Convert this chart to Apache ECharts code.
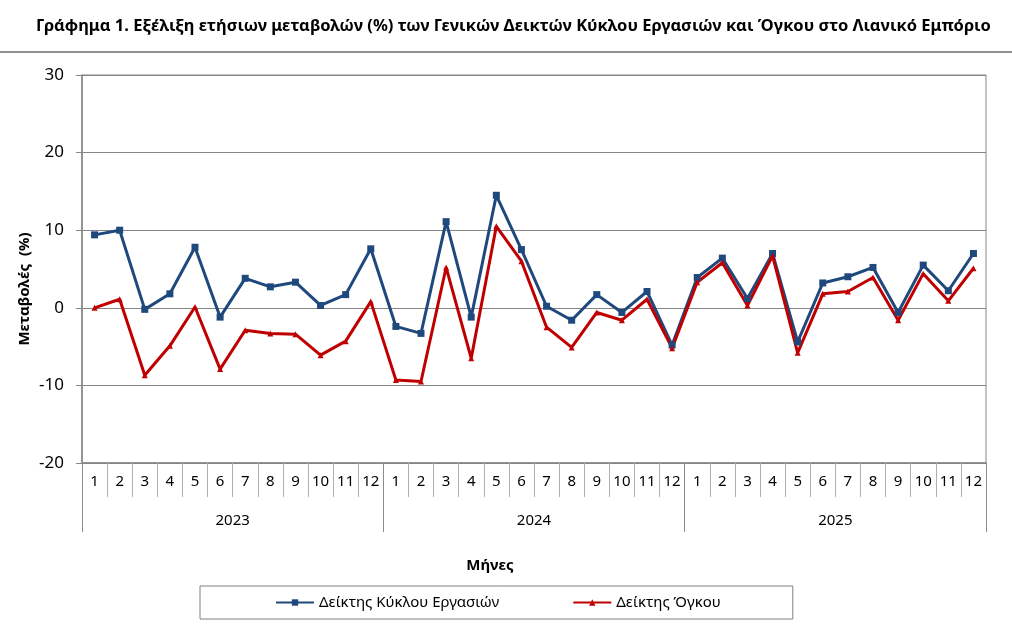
<!DOCTYPE html>
<html>
<head>
<meta charset="utf-8">
<script src="https://cdn.jsdelivr.net/npm/echarts@6/dist/echarts.min.js"></script>
<style>
html,body{margin:0;padding:0;background:#fff;}
#chart{width:1012px;height:633px;}
</style>
</head>
<body>
<div id="chart"></div>
<script>
// data
var years = ['2023', '2024', '2025'];
var months = ['1','2','3','4','5','6','7','8','9','10','11','12'];
var turnover = [9.4, 10.0, -0.2, 1.8, 7.8, -1.2, 3.8, 2.7, 3.3, 0.3, 1.7, 7.6,
                -2.4, -3.3, 11.1, -1.2, 14.5, 7.5, 0.2, -1.6, 1.7, -0.6, 2.1, -4.8,
                3.9, 6.4, 1.2, 7.0, -4.4, 3.2, 4.0, 5.2, -0.6, 5.5, 2.2, 7.0];
var volume = [0.0, 1.1, -8.7, -4.9, 0.1, -7.9, -2.9, -3.3, -3.4, -6.1, -4.3, 0.8,
              -9.3, -9.5, 5.2, -6.5, 10.5, 6.0, -2.5, -5.1, -0.6, -1.6, 1.1, -5.2,
              3.3, 5.8, 0.3, 6.7, -5.8, 1.8, 2.1, 3.9, -1.6, 4.4, 0.9, 5.1];
var seriesNames = ['Δείκτης Κύκλου Εργασιών', 'Δείκτης Όγκου'];

var font = 'Noto Sans';
var categories = [];
years.forEach(function(y){
	months.forEach(function(m){ categories.push(y + '-' + m); });
});

var myChart = echarts.init(document.getElementById('chart'));
var option = {
	animation: false,
	textStyle: { fontFamily: font },
	color: ['#1f497d', '#c00000'],
	title: {
		text: 'Γράφημα 1. Εξέλιξη ετήσιων μεταβολών (%) των Γενικών Δεικτών Κύκλου Εργασιών και Όγκου στο Λιανικό Εμπόριο',
		left: 31, top: 13,
		textStyle: { fontFamily: font, fontSize: 16.5, fontWeight: 'bold', color: '#000' }
	},
	graphic: [
		{ type: 'line', shape: { x1: 0, y1: 52, x2: 1012, y2: 52 }, style: { stroke: '#6e6e6e', lineWidth: 1.5 } },
		{ type: 'text', x: 25, y: 289, rotation: Math.PI / 2,
		  style: { text: 'Μεταβολές  (%)', font: 'bold 15px "Noto Sans"', fill: '#000', textAlign: 'center', textVerticalAlign: 'middle' } },
		{ type: 'text', x: 490, y: 566,
		  style: { text: 'Μήνες', font: 'bold 15px "Noto Sans"', fill: '#000', textAlign: 'center', textVerticalAlign: 'middle' } }
	],
	legend: {
		data: seriesNames,
		left: 200, top: 586,
		padding: [9, 72, 9, 75],
		itemGap: 73,
		itemWidth: 38, itemHeight: 8,
		borderColor: '#808080', borderWidth: 1,
		textStyle: { fontFamily: font, fontSize: 15, color: '#000' }
	},
	grid: {
		left: 82, right: 26, top: 75, bottom: 170,
		show: true, borderColor: '#868686', borderWidth: 1
	},
	xAxis: [
		{
			type: 'category',
			data: categories,
			position: 'bottom',
			axisLine: { onZero: false, lineStyle: { color: '#868686', width: 1.5 } },
			axisTick: { show: true, interval: 0, length: 34, lineStyle: { color: '#b0b0b0' } },
			axisLabel: {
				interval: 0, margin: 11, fontSize: 15, color: '#000', fontFamily: font,
				formatter: function(v){ return v.split('-')[1]; }
			}
		},
		{
			type: 'category',
			data: years,
			position: 'bottom',
			axisLine: { show: false, onZero: false },
			axisTick: { show: true, interval: 0, length: 69, lineStyle: { color: '#8c8c8c' } },
			axisLabel: { interval: 0, margin: 50, fontSize: 15, color: '#000', fontFamily: font }
		}
	],
	yAxis: {
		type: 'value',
		min: -20, max: 30, interval: 10,
		axisLine: { show: true, lineStyle: { color: '#868686', width: 1.5 } },
		axisTick: { show: true, length: 6, lineStyle: { color: '#868686' } },
		axisLabel: { margin: 18, fontSize: 17, color: '#000', fontFamily: font },
		splitLine: { lineStyle: { color: '#868686', width: 1 } }
	},
	series: [
		{
			name: seriesNames[0],
			type: 'line',
			data: turnover,
			symbol: 'rect', symbolSize: 7,
			lineStyle: { width: 3 },
			itemStyle: { color: '#1f497d' }
		},
		{
			name: seriesNames[1],
			type: 'line',
			data: volume,
			symbol: 'triangle', symbolSize: 6,
			lineStyle: { width: 3 },
			itemStyle: { color: '#c00000' }
		}
	]
};
myChart.setOption(option);
</script>
</body>
</html>
